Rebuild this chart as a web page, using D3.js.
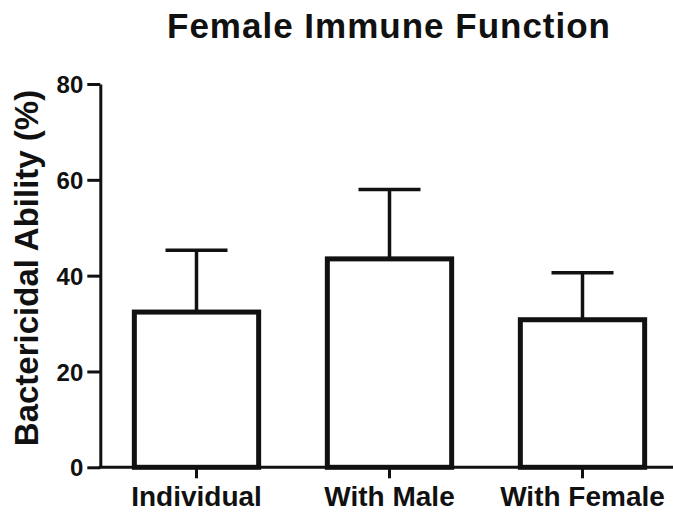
<!DOCTYPE html>
<html>
<head>
<meta charset="utf-8">
<script src="https://cdn.jsdelivr.net/npm/d3@7"></script>
<style>
  body { margin: 0; background: #fff; }
  svg { display: block; }
  text { font-family: "Liberation Sans", Arial, Helvetica, sans-serif; font-weight: bold; fill: #111; }
</style>
</head>
<body>
<svg width="673" height="517"></svg>
<script>
var categories = ["Individual", "With Male", "With Female"];
var means = [32.4, 43.5, 30.8];
var errors = [12.9, 14.5, 9.8];
var yTicks = [0, 20, 40, 60, 80];

(function () {
    var ink = "#111";
    var svg = d3.select("svg");

    var x = d3.scaleBand()
        .domain(categories)
        .range([100, 679])
        .paddingInner(0.33)
        .paddingOuter(0.165);

    var y = d3.scaleLinear()
        .domain([0, 80])
        .range([467.3, 84]);

    var data = categories.map(function (c, i) {
        return { name: c, value: means[i], err: errors[i] };
    });

    // title
    svg.append("text")
        .attr("x", 389)
        .attr("y", 38)
        .attr("text-anchor", "middle")
        .attr("font-size", 35)
        .attr("letter-spacing", "1px")
        .text("Female Immune Function");

    // error bars (upper only)
    var capHalf = 31;
    var eb = svg.selectAll("g.err").data(data).enter().append("g").attr("class", "err");
    eb.append("line")
        .attr("x1", function (d) { return x(d.name) + x.bandwidth() / 2; })
        .attr("x2", function (d) { return x(d.name) + x.bandwidth() / 2; })
        .attr("y1", function (d) { return y(d.value); })
        .attr("y2", function (d) { return y(d.value + d.err); })
        .attr("stroke", ink)
        .attr("stroke-width", 3.5);
    eb.append("line")
        .attr("x1", function (d) { return x(d.name) + x.bandwidth() / 2 - capHalf; })
        .attr("x2", function (d) { return x(d.name) + x.bandwidth() / 2 + capHalf; })
        .attr("y1", function (d) { return y(d.value + d.err); })
        .attr("y2", function (d) { return y(d.value + d.err); })
        .attr("stroke", ink)
        .attr("stroke-width", 3.5);

    // bars
    svg.selectAll("rect.bar").data(data).enter().append("rect")
        .attr("class", "bar")
        .attr("x", function (d) { return x(d.name) + 2.5; })
        .attr("y", function (d) { return y(d.value); })
        .attr("width", x.bandwidth() - 5)
        .attr("height", function (d) { return y(0) - y(d.value); })
        .attr("fill", "#fff")
        .attr("stroke", ink)
        .attr("stroke-width", 5);

    // y axis
    var yAxis = svg.append("g")
        .attr("transform", "translate(100.3,0)")
        .call(d3.axisLeft(y).tickValues(yTicks).tickSize(13).tickSizeOuter(0).tickPadding(4));
    yAxis.select(".domain").attr("stroke", ink).attr("stroke-width", 3);
    yAxis.selectAll(".tick line").attr("stroke", ink).attr("stroke-width", 3);
    yAxis.selectAll(".tick text")
        .attr("font-size", 24)
        .attr("font-family", "Liberation Sans, Arial, sans-serif")
        .attr("font-weight", "bold")
        .attr("fill", ink)
        .attr("dy", "0.36em");

    // x axis
    var xAxis = svg.append("g")
        .attr("transform", "translate(0," + y(0) + ")")
        .call(d3.axisBottom(x).tickSize(11).tickSizeOuter(0));
    xAxis.select(".domain").attr("stroke", ink).attr("stroke-width", 3)
        .attr("d", "M98.8,0H673");
    xAxis.selectAll(".tick line").attr("stroke", ink).attr("stroke-width", 3);
    xAxis.selectAll(".tick text")
        .attr("font-size", 28)
        .attr("font-family", "Liberation Sans, Arial, sans-serif")
        .attr("font-weight", "bold")
        .attr("fill", ink)
        .attr("y", 39)
        .attr("dy", 0);

    // y axis title
    svg.append("text")
        .attr("transform", "translate(38,268) rotate(-90)")
        .attr("text-anchor", "middle")
        .attr("font-size", 33)
        .text("Bactericidal Ability (%)");
})();
</script>
</body>
</html>
